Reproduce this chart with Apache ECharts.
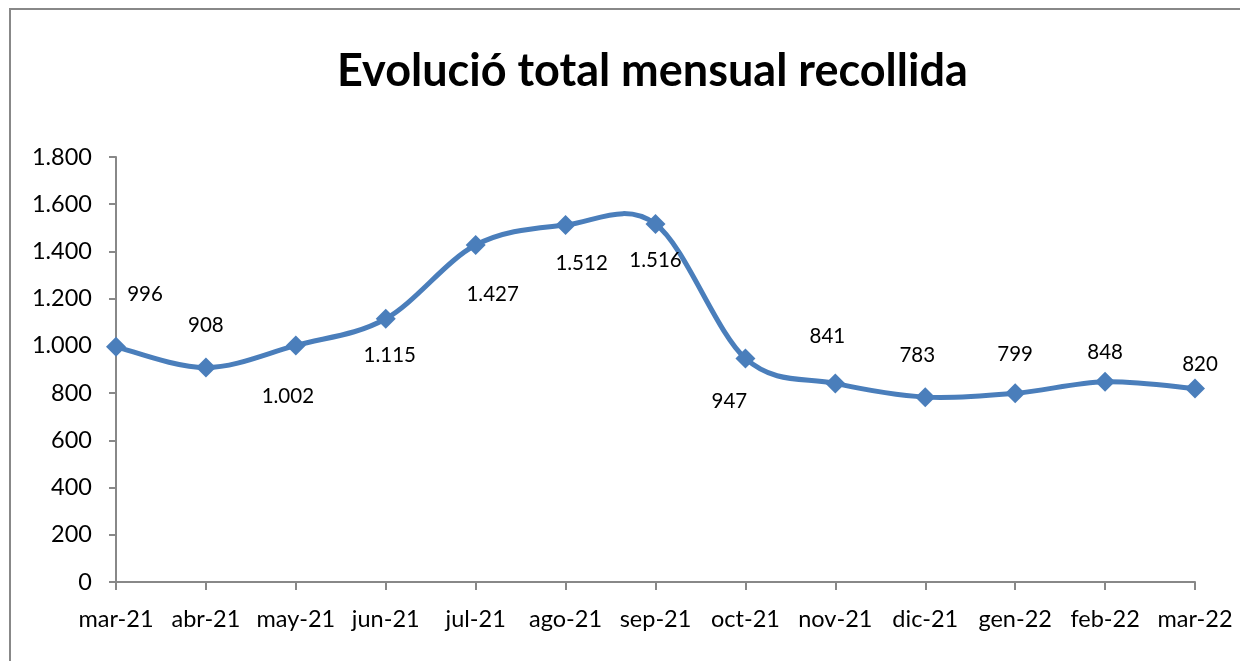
<!DOCTYPE html>
<html>
<head>
<meta charset="utf-8">
<script src="https://cdn.jsdelivr.net/npm/echarts@6/dist/echarts.min.js"></script>
<style>
html,body{margin:0;padding:0;background:#fff;}
#c{width:1240px;height:661px;}
</style>
</head>
<body>
<div id="c"></div>
<script>
const titleText = 'Evolució total mensual recollida';
const categories = ['mar-21','abr-21','may-21','jun-21','jul-21','ago-21','sep-21','oct-21','nov-21','dic-21','gen-22','feb-22','mar-22'];
const values = [996, 908, 1002, 1115, 1427, 1512, 1516, 947, 841, 783, 799, 848, 820];
const yTicks = [0, 200, 400, 600, 800, 1000, 1200, 1400, 1600, 1800];
// label offsets [dx, dy] relative to each point
const labelOffsets = [[29,-52],[0,-42],[-8,51],[4,37],[17,49],[16,38],[0,36],[-16,43],[-8,-47],[-8,-42],[0,-39],[0,-29],[5,-24]];

function fmt(v){
  return String(v).replace(/\B(?=(\d{3})+(?!\d))/g, '.');
}

const LINE_COLOR = '#4A7EBB';
const FONT = 'Lato, "Open Sans", sans-serif';
const chart = echarts.init(document.getElementById('c'));

// Smoothed curve (Catmull-Rom style, like spreadsheet smoothing), drawn through the axis scales
function renderCurve(params, api) {
  const pts = values.map((v, i) => api.coord([i, v]));
  let d = 'M' + pts[0][0] + ',' + pts[0][1];
  for (let i = 0; i < pts.length - 1; i++) {
    const p0 = pts[Math.max(i - 1, 0)];
    const p1 = pts[i];
    const p2 = pts[i + 1];
    const p3 = pts[Math.min(i + 2, pts.length - 1)];
    const c1 = [p1[0] + (p2[0] - p0[0]) / 6, p1[1] + (p2[1] - p0[1]) / 6];
    const c2 = [p2[0] - (p3[0] - p1[0]) / 6, p2[1] - (p3[1] - p1[1]) / 6];
    d += ' C' + c1[0] + ',' + c1[1] + ' ' + c2[0] + ',' + c2[1] + ' ' + p2[0] + ',' + p2[1];
  }
  return {
    type: 'path',
    shape: {pathData: d},
    style: {fill: 'none', stroke: LINE_COLOR, lineWidth: 5, lineJoin: 'round', lineCap: 'round'}
  };
}

chart.setOption({
  animation: false,
  backgroundColor: '#fff',
  title: {
    text: titleText,
    left: 332,
    top: 44,
    textStyle: {fontFamily: FONT, fontWeight: 'bold', fontSize: 45, color: '#000'}
  },
  graphic: [{
    type: 'rect',
    shape: {x: 10, y: 9, width: 1260, height: 700},
    style: {fill: 'none', stroke: '#888', lineWidth: 2},
    silent: true
  }],
  grid: {left: 116, right: 45, top: 157, bottom: 79},
  xAxis: {
    type: 'category',
    data: categories,
    boundaryGap: false,
    axisLine: {lineStyle: {color: '#888', width: 2}},
    axisTick: {show: true, length: 8, lineStyle: {color: '#888', width: 2}},
    axisLabel: {fontFamily: FONT, fontSize: 23.5, color: '#000', margin: 25, interval: 0}
  },
  yAxis: {
    type: 'value',
    min: yTicks[0],
    max: yTicks[yTicks.length - 1],
    interval: yTicks[1] - yTicks[0],
    axisLine: {show: true, lineStyle: {color: '#888', width: 2}},
    axisTick: {show: true, length: 7, lineStyle: {color: '#888', width: 2}},
    splitLine: {show: false},
    axisLabel: {fontFamily: FONT, fontSize: 23.5, color: '#000', margin: 24, formatter: fmt}
  },
  series: [{
    type: 'custom',
    data: [0],
    renderItem: renderCurve,
    silent: true,
    z: 1
  }, {
    type: 'line',
    z: 2,
    data: values.map((v, i) => ({
      value: v,
      label: {offset: labelOffsets[i]}
    })),
    symbol: 'diamond',
    symbolSize: 20,
    lineStyle: {width: 0, opacity: 0},
    itemStyle: {color: LINE_COLOR},
    label: {
      show: true,
      position: 'inside',
      fontFamily: FONT,
      fontSize: 20.5,
      color: '#000',
      formatter: p => fmt(p.value)
    }
  }]
});
</script>
</body>
</html>
